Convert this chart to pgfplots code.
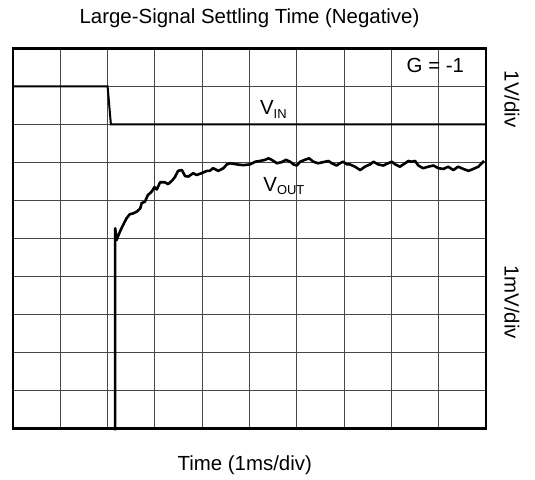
\documentclass[border=0pt]{standalone}
\usepackage{pgfplots}
\pgfplotsset{compat=1.18}
\usepackage{fontspec}
\setmainfont{Liberation Sans}
\newcommand{\fs}{\fontsize{20.5}{24}\selectfont}
\newcommand{\sub}[1]{\raisebox{-0.3ex}{\fontsize{13}{14}\selectfont #1}}
\begin{document}
\begin{tikzpicture}[x=1bp,y=1bp]
\path[use as bounding box] (-13,-51.5) rectangle (522,428.5);
\begin{axis}[
  at={(0,0)}, anchor=south west,
  scale only axis, width=473bp, height=380bp,
  xmin=0, xmax=10, ymin=0, ymax=10,
  xtick={0,1,...,10}, ytick={0,1,...,10},
  xticklabels={}, yticklabels={},
  major tick length=0pt,
  grid=major,
  major grid style={black!72, line width=0.9bp},
  axis line style={line width=2.2bp},
  clip=false,
]
\addplot[black, line width=2bp] coordinates {
(0,9) (2.0,9) (2.07,8) (10,8)
};
\addplot[black, line width=2.6bp, line join=round] coordinates {
(2.16,-0.05) (2.16,5.27) (2.19,4.96) (2.26,5.18) (2.33,5.36) (2.40,5.53)
(2.47,5.64) (2.54,5.66) (2.62,5.71) (2.69,5.79) (2.72,5.93) (2.79,5.97)
(2.85,6.14) (2.93,6.23) (2.99,6.35) (3.04,6.29) (3.11,6.48) (3.21,6.48)
(3.28,6.43) (3.36,6.52) (3.42,6.61) (3.49,6.78) (3.57,6.80) (3.64,6.64)
(3.71,6.63) (3.81,6.72) (3.88,6.67) (3.99,6.72) (4.10,6.78) (4.16,6.78)
(4.23,6.85) (4.34,6.78) (4.45,6.85) (4.52,6.95) (4.59,6.98) (4.73,6.95)
(4.87,6.93) (5.01,6.95) (5.12,7.02) (5.22,7.04) (5.33,7.07) (5.40,7.11)
(5.47,7.07) (5.58,6.98) (5.68,7.01) (5.77,7.07) (5.86,7.02) (5.93,6.95)
(6.00,6.92) (6.07,7.02) (6.17,7.07) (6.26,7.11) (6.35,7.02) (6.45,6.98)
(6.56,7.01) (6.67,7.04) (6.74,6.98) (6.84,6.92) (6.91,6.98) (6.98,7.02)
(7.06,6.95) (7.12,6.95) (7.23,6.89) (7.34,6.80) (7.44,6.89) (7.55,6.95)
(7.62,7.02) (7.72,6.95) (7.83,6.92) (7.93,6.98) (8.01,7.02) (8.08,6.95)
(8.18,6.89) (8.29,6.98) (8.36,7.04) (8.43,7.02) (8.50,7.04) (8.57,6.92)
(8.67,6.85) (8.78,6.89) (8.89,6.92) (8.99,6.85) (9.10,6.83) (9.20,6.89)
(9.31,6.80) (9.41,6.89) (9.52,6.83) (9.63,6.78) (9.73,6.83) (9.84,6.89)
(9.91,6.98) (9.96,7.04)
};
\node[anchor=base, inner sep=0pt] at (axis cs:8.93,9.36) {\fs G = -1};
\node[anchor=base west, inner sep=0pt] at (axis cs:5.22,8.25) {\fs V\sub{IN}};
\node[anchor=base west, inner sep=0pt] at (axis cs:5.29,6.23) {\fs V\sub{OUT}};
\node[rotate=-90, inner sep=0pt] at (axis cs:10.55,8.67) {\fs 1V/div};
\node[rotate=-90, inner sep=0pt] at (axis cs:10.55,3.33) {\fs 1mV/div};
\node[inner sep=0pt] at (axis cs:5,10.8) {\fs Large-Signal Settling Time (Negative)};
\node[inner sep=0pt] at (axis cs:4.9,-0.96) {\fs Time (1ms/div)};
\end{axis}
\end{tikzpicture}
\end{document}
